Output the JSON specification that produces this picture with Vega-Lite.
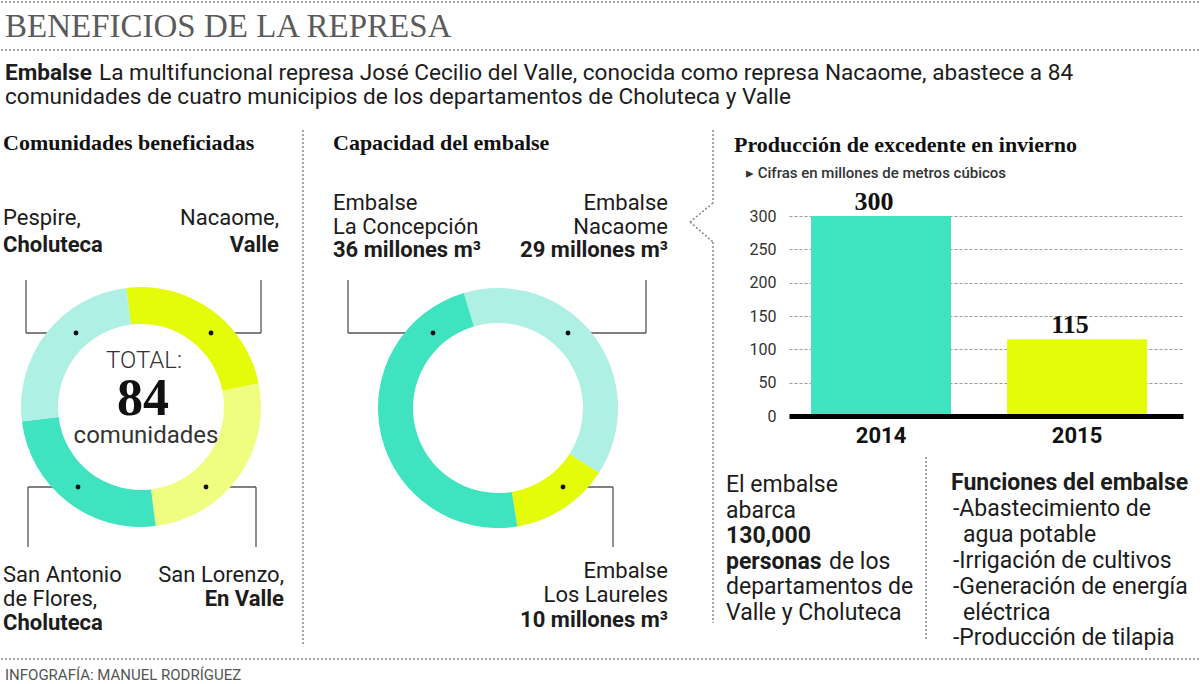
{
  "$schema": "https://vega.github.io/schema/vega-lite/v6.json",
  "background": "white",
  "padding": 0,
  "bounds": "flush",
  "spacing": 0,
  "resolve": {"scale": {"color": "independent"}},
  "config": {
    "view": {"stroke": null},
    "text": {"font": "Roboto", "fontSize": 22, "baseline": "alphabetic", "align": "left", "color": "#1c1c1c"},
    "rule": {"color": "#555555", "strokeWidth": 1.3}
  },
  "hconcat": [
    {
      "width": 788,
      "height": 684,
      "data": {"values": [{}]},
      "resolve": {"scale": {"theta": "independent"}},
      "layer": [
        {"mark": {"type": "rule", "strokeDash": [2, 2], "color": "#8a8a8a", "strokeWidth": 1.5},
         "encoding": {"x": {"datum": 0, "type": "quantitative", "scale": {"domain": [0, 788]}, "axis": null}, "x2": {"datum": 1200},
                      "y": {"datum": 2, "type": "quantitative", "scale": {"domain": [0, 684], "reverse": true}, "axis": null}}},
        {"mark": {"type": "rule", "strokeDash": [2, 2], "color": "#8a8a8a", "strokeWidth": 1.5},
         "encoding": {"x": {"datum": 0, "type": "quantitative", "scale": {"domain": [0, 788]}, "axis": null}, "x2": {"datum": 1200},
                      "y": {"datum": 50, "type": "quantitative", "scale": {"domain": [0, 684], "reverse": true}, "axis": null}}},
        {"mark": {"type": "rule", "strokeDash": [2, 2], "color": "#8a8a8a", "strokeWidth": 1.5},
         "encoding": {"x": {"datum": 0, "type": "quantitative", "scale": {"domain": [0, 788]}, "axis": null}, "x2": {"datum": 1200},
                      "y": {"datum": 659, "type": "quantitative", "scale": {"domain": [0, 684], "reverse": true}, "axis": null}}},
        {"mark": {"type": "rule", "strokeDash": [2, 2], "color": "#8a8a8a", "strokeWidth": 1.5},
         "encoding": {"x": {"datum": 302, "type": "quantitative", "scale": {"domain": [0, 788]}, "axis": null},
                      "y": {"datum": 130, "type": "quantitative", "scale": {"domain": [0, 684], "reverse": true}, "axis": null}, "y2": {"datum": 645}}},
        {"mark": {"type": "rule", "strokeDash": [2, 2], "color": "#8a8a8a", "strokeWidth": 1.5},
         "encoding": {"x": {"datum": 712, "type": "quantitative", "scale": {"domain": [0, 788]}, "axis": null},
                      "y": {"datum": 130, "type": "quantitative", "scale": {"domain": [0, 684], "reverse": true}, "axis": null}, "y2": {"datum": 203}}},
        {"mark": {"type": "rule", "strokeDash": [2, 2], "color": "#8a8a8a", "strokeWidth": 1.5},
         "encoding": {"x": {"datum": 712, "type": "quantitative", "scale": {"domain": [0, 788]}, "axis": null}, "x2": {"datum": 689},
                      "y": {"datum": 203, "type": "quantitative", "scale": {"domain": [0, 684], "reverse": true}, "axis": null}, "y2": {"datum": 222}}},
        {"mark": {"type": "rule", "strokeDash": [2, 2], "color": "#8a8a8a", "strokeWidth": 1.5},
         "encoding": {"x": {"datum": 689, "type": "quantitative", "scale": {"domain": [0, 788]}, "axis": null}, "x2": {"datum": 712},
                      "y": {"datum": 222, "type": "quantitative", "scale": {"domain": [0, 684], "reverse": true}, "axis": null}, "y2": {"datum": 242}}},
        {"mark": {"type": "rule", "strokeDash": [2, 2], "color": "#8a8a8a", "strokeWidth": 1.5},
         "encoding": {"x": {"datum": 712, "type": "quantitative", "scale": {"domain": [0, 788]}, "axis": null},
                      "y": {"datum": 242, "type": "quantitative", "scale": {"domain": [0, 684], "reverse": true}, "axis": null}, "y2": {"datum": 623}}},
        {"mark": {"type": "rule", "strokeDash": [2, 2], "color": "#8a8a8a", "strokeWidth": 1.5},
         "encoding": {"x": {"datum": 925, "type": "quantitative", "scale": {"domain": [0, 788]}, "axis": null},
                      "y": {"datum": 457, "type": "quantitative", "scale": {"domain": [0, 684], "reverse": true}, "axis": null}, "y2": {"datum": 640}}},

        {"mark": {"type": "rule"}, "encoding": {"x": {"datum": 25, "type": "quantitative", "scale": {"domain": [0, 788]}, "axis": null}, "y": {"datum": 280, "type": "quantitative", "scale": {"domain": [0, 684], "reverse": true}, "axis": null}, "y2": {"datum": 333}}},
        {"mark": {"type": "rule"}, "encoding": {"x": {"datum": 25, "type": "quantitative", "scale": {"domain": [0, 788]}, "axis": null}, "x2": {"datum": 75}, "y": {"datum": 333, "type": "quantitative", "scale": {"domain": [0, 684], "reverse": true}, "axis": null}}},
        {"mark": {"type": "rule"}, "encoding": {"x": {"datum": 260, "type": "quantitative", "scale": {"domain": [0, 788]}, "axis": null}, "y": {"datum": 280, "type": "quantitative", "scale": {"domain": [0, 684], "reverse": true}, "axis": null}, "y2": {"datum": 333}}},
        {"mark": {"type": "rule"}, "encoding": {"x": {"datum": 210, "type": "quantitative", "scale": {"domain": [0, 788]}, "axis": null}, "x2": {"datum": 260}, "y": {"datum": 333, "type": "quantitative", "scale": {"domain": [0, 684], "reverse": true}, "axis": null}}},
        {"mark": {"type": "rule"}, "encoding": {"x": {"datum": 27, "type": "quantitative", "scale": {"domain": [0, 788]}, "axis": null}, "x2": {"datum": 77}, "y": {"datum": 487, "type": "quantitative", "scale": {"domain": [0, 684], "reverse": true}, "axis": null}}},
        {"mark": {"type": "rule"}, "encoding": {"x": {"datum": 27, "type": "quantitative", "scale": {"domain": [0, 788]}, "axis": null}, "y": {"datum": 487, "type": "quantitative", "scale": {"domain": [0, 684], "reverse": true}, "axis": null}, "y2": {"datum": 547}}},
        {"mark": {"type": "rule"}, "encoding": {"x": {"datum": 205, "type": "quantitative", "scale": {"domain": [0, 788]}, "axis": null}, "x2": {"datum": 255}, "y": {"datum": 487, "type": "quantitative", "scale": {"domain": [0, 684], "reverse": true}, "axis": null}}},
        {"mark": {"type": "rule"}, "encoding": {"x": {"datum": 255, "type": "quantitative", "scale": {"domain": [0, 788]}, "axis": null}, "y": {"datum": 487, "type": "quantitative", "scale": {"domain": [0, 684], "reverse": true}, "axis": null}, "y2": {"datum": 547}}},
        {"mark": {"type": "rule"}, "encoding": {"x": {"datum": 347, "type": "quantitative", "scale": {"domain": [0, 788]}, "axis": null}, "y": {"datum": 280, "type": "quantitative", "scale": {"domain": [0, 684], "reverse": true}, "axis": null}, "y2": {"datum": 333}}},
        {"mark": {"type": "rule"}, "encoding": {"x": {"datum": 347, "type": "quantitative", "scale": {"domain": [0, 788]}, "axis": null}, "x2": {"datum": 432}, "y": {"datum": 333, "type": "quantitative", "scale": {"domain": [0, 684], "reverse": true}, "axis": null}}},
        {"mark": {"type": "rule"}, "encoding": {"x": {"datum": 645, "type": "quantitative", "scale": {"domain": [0, 788]}, "axis": null}, "y": {"datum": 280, "type": "quantitative", "scale": {"domain": [0, 684], "reverse": true}, "axis": null}, "y2": {"datum": 333}}},
        {"mark": {"type": "rule"}, "encoding": {"x": {"datum": 567, "type": "quantitative", "scale": {"domain": [0, 788]}, "axis": null}, "x2": {"datum": 645}, "y": {"datum": 333, "type": "quantitative", "scale": {"domain": [0, 684], "reverse": true}, "axis": null}}},
        {"mark": {"type": "rule"}, "encoding": {"x": {"datum": 562, "type": "quantitative", "scale": {"domain": [0, 788]}, "axis": null}, "x2": {"datum": 612}, "y": {"datum": 487, "type": "quantitative", "scale": {"domain": [0, 684], "reverse": true}, "axis": null}}},
        {"mark": {"type": "rule"}, "encoding": {"x": {"datum": 612, "type": "quantitative", "scale": {"domain": [0, 788]}, "axis": null}, "y": {"datum": 487, "type": "quantitative", "scale": {"domain": [0, 684], "reverse": true}, "axis": null}, "y2": {"datum": 547}}},

        {
          "data": {"values": [
            {"segmento": "Nacaome, Valle", "comunidades": 20, "orden": 1},
            {"segmento": "San Lorenzo, Valle", "comunidades": 22, "orden": 2},
            {"segmento": "San Antonio de Flores, Choluteca", "comunidades": 21, "orden": 3},
            {"segmento": "Pespire, Choluteca", "comunidades": 21, "orden": 4}
          ]},
          "mark": {"type": "arc", "innerRadius": 83, "outerRadius": 120},
          "encoding": {
            "x": {"datum": 140, "type": "quantitative", "scale": {"domain": [0, 788]}, "axis": null},
            "y": {"datum": 407, "type": "quantitative", "scale": {"domain": [0, 684], "reverse": true}, "axis": null},
            "theta": {"field": "comunidades", "type": "quantitative", "stack": true, "scale": {"range": [-0.122, 6.161]}},
            "order": {"field": "orden", "type": "quantitative"},
            "color": {"field": "segmento", "type": "nominal", "legend": null,
              "scale": {"domain": ["Nacaome, Valle", "San Lorenzo, Valle", "San Antonio de Flores, Choluteca", "Pespire, Choluteca", "Embalse Nacaome", "Embalse Los Laureles", "Embalse La Concepción"],
                        "range": ["#e4fc0a", "#effd80", "#40e3c0", "#aef0e4", "#aef0e4", "#e4fc0a", "#40e3c0"]}}
          }
        },
        {
          "data": {"values": [
            {"segmento": "Embalse Nacaome", "millones_m3": 29, "orden": 1},
            {"segmento": "Embalse Los Laureles", "millones_m3": 10, "orden": 2},
            {"segmento": "Embalse La Concepción", "millones_m3": 36, "orden": 3}
          ]},
          "mark": {"type": "arc", "innerRadius": 85, "outerRadius": 120},
          "encoding": {
            "x": {"datum": 497, "type": "quantitative", "scale": {"domain": [0, 788]}, "axis": null},
            "y": {"datum": 408, "type": "quantitative", "scale": {"domain": [0, 684], "reverse": true}, "axis": null},
            "theta": {"field": "millones_m3", "type": "quantitative", "stack": true, "scale": {"range": [-0.288, 5.995]}},
            "order": {"field": "orden", "type": "quantitative"},
            "color": {"field": "segmento", "type": "nominal", "legend": null,
              "scale": {"domain": ["Nacaome, Valle", "San Lorenzo, Valle", "San Antonio de Flores, Choluteca", "Pespire, Choluteca", "Embalse Nacaome", "Embalse Los Laureles", "Embalse La Concepción"],
                        "range": ["#e4fc0a", "#effd80", "#40e3c0", "#aef0e4", "#aef0e4", "#e4fc0a", "#40e3c0"]}}
          }
        },

        {"mark": {"type": "circle", "size": 24, "color": "#111111", "opacity": 1}, "encoding": {"x": {"datum": 75, "type": "quantitative", "scale": {"domain": [0, 788]}, "axis": null}, "y": {"datum": 333, "type": "quantitative", "scale": {"domain": [0, 684], "reverse": true}, "axis": null}}},
        {"mark": {"type": "circle", "size": 24, "color": "#111111", "opacity": 1}, "encoding": {"x": {"datum": 210, "type": "quantitative", "scale": {"domain": [0, 788]}, "axis": null}, "y": {"datum": 333, "type": "quantitative", "scale": {"domain": [0, 684], "reverse": true}, "axis": null}}},
        {"mark": {"type": "circle", "size": 24, "color": "#111111", "opacity": 1}, "encoding": {"x": {"datum": 77, "type": "quantitative", "scale": {"domain": [0, 788]}, "axis": null}, "y": {"datum": 487, "type": "quantitative", "scale": {"domain": [0, 684], "reverse": true}, "axis": null}}},
        {"mark": {"type": "circle", "size": 24, "color": "#111111", "opacity": 1}, "encoding": {"x": {"datum": 205, "type": "quantitative", "scale": {"domain": [0, 788]}, "axis": null}, "y": {"datum": 487, "type": "quantitative", "scale": {"domain": [0, 684], "reverse": true}, "axis": null}}},
        {"mark": {"type": "circle", "size": 24, "color": "#111111", "opacity": 1}, "encoding": {"x": {"datum": 432, "type": "quantitative", "scale": {"domain": [0, 788]}, "axis": null}, "y": {"datum": 333, "type": "quantitative", "scale": {"domain": [0, 684], "reverse": true}, "axis": null}}},
        {"mark": {"type": "circle", "size": 24, "color": "#111111", "opacity": 1}, "encoding": {"x": {"datum": 567, "type": "quantitative", "scale": {"domain": [0, 788]}, "axis": null}, "y": {"datum": 333, "type": "quantitative", "scale": {"domain": [0, 684], "reverse": true}, "axis": null}}},
        {"mark": {"type": "circle", "size": 24, "color": "#111111", "opacity": 1}, "encoding": {"x": {"datum": 562, "type": "quantitative", "scale": {"domain": [0, 788]}, "axis": null}, "y": {"datum": 487, "type": "quantitative", "scale": {"domain": [0, 684], "reverse": true}, "axis": null}}},

        {"mark": {"type": "text", "text": "BENEFICIOS DE LA REPRESA", "font": "Liberation Serif", "fontSize": 33, "color": "#5b5b5b"},
         "encoding": {"x": {"datum": 4, "type": "quantitative", "scale": {"domain": [0, 788]}, "axis": null}, "y": {"datum": 37, "type": "quantitative", "scale": {"domain": [0, 684], "reverse": true}, "axis": null}}},
        {"mark": {"type": "text", "text": "Embalse", "fontWeight": "bold", "fontSize": 22.6},
         "encoding": {"x": {"datum": 4, "type": "quantitative", "scale": {"domain": [0, 788]}, "axis": null}, "y": {"datum": 80, "type": "quantitative", "scale": {"domain": [0, 684], "reverse": true}, "axis": null}}},
        {"mark": {"type": "text", "text": "La multifuncional represa José Cecilio del Valle, conocida como represa Nacaome, abastece a 84", "fontSize": 22.6},
         "encoding": {"x": {"datum": 98, "type": "quantitative", "scale": {"domain": [0, 788]}, "axis": null}, "y": {"datum": 80, "type": "quantitative", "scale": {"domain": [0, 684], "reverse": true}, "axis": null}}},
        {"mark": {"type": "text", "text": "comunidades de cuatro municipios de los departamentos de Choluteca y Valle", "fontSize": 22.6},
         "encoding": {"x": {"datum": 4, "type": "quantitative", "scale": {"domain": [0, 788]}, "axis": null}, "y": {"datum": 104, "type": "quantitative", "scale": {"domain": [0, 684], "reverse": true}, "axis": null}}},
        {"mark": {"type": "text", "text": "Comunidades beneficiadas", "font": "Liberation Serif", "fontWeight": "bold", "fontSize": 22, "color": "#111111"},
         "encoding": {"x": {"datum": 2, "type": "quantitative", "scale": {"domain": [0, 788]}, "axis": null}, "y": {"datum": 150, "type": "quantitative", "scale": {"domain": [0, 684], "reverse": true}, "axis": null}}},
        {"mark": {"type": "text", "text": "Capacidad del embalse", "font": "Liberation Serif", "fontWeight": "bold", "fontSize": 22, "color": "#111111"},
         "encoding": {"x": {"datum": 332, "type": "quantitative", "scale": {"domain": [0, 788]}, "axis": null}, "y": {"datum": 150, "type": "quantitative", "scale": {"domain": [0, 684], "reverse": true}, "axis": null}}},

        {"mark": {"type": "text", "text": "Pespire,"},
         "encoding": {"x": {"datum": 2, "type": "quantitative", "scale": {"domain": [0, 788]}, "axis": null}, "y": {"datum": 225, "type": "quantitative", "scale": {"domain": [0, 684], "reverse": true}, "axis": null}}},
        {"mark": {"type": "text", "text": "Choluteca", "fontWeight": "bold"},
         "encoding": {"x": {"datum": 2, "type": "quantitative", "scale": {"domain": [0, 788]}, "axis": null}, "y": {"datum": 252, "type": "quantitative", "scale": {"domain": [0, 684], "reverse": true}, "axis": null}}},
        {"mark": {"type": "text", "text": "Nacaome,", "align": "right"},
         "encoding": {"x": {"datum": 278, "type": "quantitative", "scale": {"domain": [0, 788]}, "axis": null}, "y": {"datum": 225, "type": "quantitative", "scale": {"domain": [0, 684], "reverse": true}, "axis": null}}},
        {"mark": {"type": "text", "text": "Valle", "fontWeight": "bold", "align": "right"},
         "encoding": {"x": {"datum": 278, "type": "quantitative", "scale": {"domain": [0, 788]}, "axis": null}, "y": {"datum": 252, "type": "quantitative", "scale": {"domain": [0, 684], "reverse": true}, "axis": null}}},
        {"mark": {"type": "text", "text": ["San Antonio", "de Flores,"], "lineHeight": 24},
         "encoding": {"x": {"datum": 2, "type": "quantitative", "scale": {"domain": [0, 788]}, "axis": null}, "y": {"datum": 582, "type": "quantitative", "scale": {"domain": [0, 684], "reverse": true}, "axis": null}}},
        {"mark": {"type": "text", "text": "Choluteca", "fontWeight": "bold"},
         "encoding": {"x": {"datum": 2, "type": "quantitative", "scale": {"domain": [0, 788]}, "axis": null}, "y": {"datum": 630, "type": "quantitative", "scale": {"domain": [0, 684], "reverse": true}, "axis": null}}},
        {"mark": {"type": "text", "text": "San Lorenzo,", "align": "right"},
         "encoding": {"x": {"datum": 283, "type": "quantitative", "scale": {"domain": [0, 788]}, "axis": null}, "y": {"datum": 582, "type": "quantitative", "scale": {"domain": [0, 684], "reverse": true}, "axis": null}}},
        {"mark": {"type": "text", "text": "En Valle", "fontWeight": "bold", "align": "right"},
         "encoding": {"x": {"datum": 283, "type": "quantitative", "scale": {"domain": [0, 788]}, "axis": null}, "y": {"datum": 606, "type": "quantitative", "scale": {"domain": [0, 684], "reverse": true}, "axis": null}}},
        {"mark": {"type": "text", "text": "TOTAL:", "align": "center", "fontSize": 24, "fontWeight": 300, "color": "#333333"},
         "encoding": {"x": {"datum": 143, "type": "quantitative", "scale": {"domain": [0, 788]}, "axis": null}, "y": {"datum": 368, "type": "quantitative", "scale": {"domain": [0, 684], "reverse": true}, "axis": null}}},
        {"mark": {"type": "text", "text": "84", "align": "center", "font": "Liberation Serif", "fontWeight": "bold", "fontSize": 52, "color": "#111111"},
         "encoding": {"x": {"datum": 142, "type": "quantitative", "scale": {"domain": [0, 788]}, "axis": null}, "y": {"datum": 415, "type": "quantitative", "scale": {"domain": [0, 684], "reverse": true}, "axis": null}}},
        {"mark": {"type": "text", "text": "comunidades", "align": "center", "fontSize": 24, "color": "#333333"},
         "encoding": {"x": {"datum": 145, "type": "quantitative", "scale": {"domain": [0, 788]}, "axis": null}, "y": {"datum": 443, "type": "quantitative", "scale": {"domain": [0, 684], "reverse": true}, "axis": null}}},

        {"mark": {"type": "text", "text": ["Embalse", "La Concepción"], "lineHeight": 24},
         "encoding": {"x": {"datum": 332, "type": "quantitative", "scale": {"domain": [0, 788]}, "axis": null}, "y": {"datum": 210, "type": "quantitative", "scale": {"domain": [0, 684], "reverse": true}, "axis": null}}},
        {"mark": {"type": "text", "text": "36 millones m³", "fontWeight": "bold"},
         "encoding": {"x": {"datum": 332, "type": "quantitative", "scale": {"domain": [0, 788]}, "axis": null}, "y": {"datum": 257, "type": "quantitative", "scale": {"domain": [0, 684], "reverse": true}, "axis": null}}},
        {"mark": {"type": "text", "text": ["Embalse", "Nacaome"], "lineHeight": 24, "align": "right"},
         "encoding": {"x": {"datum": 667, "type": "quantitative", "scale": {"domain": [0, 788]}, "axis": null}, "y": {"datum": 210, "type": "quantitative", "scale": {"domain": [0, 684], "reverse": true}, "axis": null}}},
        {"mark": {"type": "text", "text": "29 millones m³", "fontWeight": "bold", "align": "right"},
         "encoding": {"x": {"datum": 667, "type": "quantitative", "scale": {"domain": [0, 788]}, "axis": null}, "y": {"datum": 257, "type": "quantitative", "scale": {"domain": [0, 684], "reverse": true}, "axis": null}}},
        {"mark": {"type": "text", "text": ["Embalse", "Los Laureles"], "lineHeight": 24, "align": "right"},
         "encoding": {"x": {"datum": 667, "type": "quantitative", "scale": {"domain": [0, 788]}, "axis": null}, "y": {"datum": 578, "type": "quantitative", "scale": {"domain": [0, 684], "reverse": true}, "axis": null}}},
        {"mark": {"type": "text", "text": "10 millones m³", "fontWeight": "bold", "align": "right"},
         "encoding": {"x": {"datum": 667, "type": "quantitative", "scale": {"domain": [0, 788]}, "axis": null}, "y": {"datum": 627, "type": "quantitative", "scale": {"domain": [0, 684], "reverse": true}, "axis": null}}},

        {"mark": {"type": "text", "text": ["El embalse", "abarca"], "fontSize": 23, "lineHeight": 25.6},
         "encoding": {"x": {"datum": 725, "type": "quantitative", "scale": {"domain": [0, 788]}, "axis": null}, "y": {"datum": 492, "type": "quantitative", "scale": {"domain": [0, 684], "reverse": true}, "axis": null}}},
        {"mark": {"type": "text", "text": ["130,000", "personas"], "fontSize": 23, "lineHeight": 25.6, "fontWeight": "bold"},
         "encoding": {"x": {"datum": 725, "type": "quantitative", "scale": {"domain": [0, 788]}, "axis": null}, "y": {"datum": 543.2, "type": "quantitative", "scale": {"domain": [0, 684], "reverse": true}, "axis": null}}},
        {"mark": {"type": "text", "text": "de los", "fontSize": 23},
         "encoding": {"x": {"datum": 828, "type": "quantitative", "scale": {"domain": [0, 788]}, "axis": null}, "y": {"datum": 568.8, "type": "quantitative", "scale": {"domain": [0, 684], "reverse": true}, "axis": null}}},
        {"mark": {"type": "text", "text": ["departamentos de", "Valle y Choluteca"], "fontSize": 23, "lineHeight": 25.6},
         "encoding": {"x": {"datum": 725, "type": "quantitative", "scale": {"domain": [0, 788]}, "axis": null}, "y": {"datum": 594.4, "type": "quantitative", "scale": {"domain": [0, 684], "reverse": true}, "axis": null}}},

        {"mark": {"type": "text", "text": "Funciones del embalse", "fontSize": 23, "fontWeight": "bold"},
         "encoding": {"x": {"datum": 950, "type": "quantitative", "scale": {"domain": [0, 788]}, "axis": null}, "y": {"datum": 490, "type": "quantitative", "scale": {"domain": [0, 684], "reverse": true}, "axis": null}}},
        {"mark": {"type": "text", "text": "-Abastecimiento de", "fontSize": 23},
         "encoding": {"x": {"datum": 952, "type": "quantitative", "scale": {"domain": [0, 788]}, "axis": null}, "y": {"datum": 516, "type": "quantitative", "scale": {"domain": [0, 684], "reverse": true}, "axis": null}}},
        {"mark": {"type": "text", "text": "agua potable", "fontSize": 23},
         "encoding": {"x": {"datum": 962, "type": "quantitative", "scale": {"domain": [0, 788]}, "axis": null}, "y": {"datum": 542, "type": "quantitative", "scale": {"domain": [0, 684], "reverse": true}, "axis": null}}},
        {"mark": {"type": "text", "text": ["-Irrigación de cultivos", "-Generación de energía"], "fontSize": 23, "lineHeight": 25.8},
         "encoding": {"x": {"datum": 952, "type": "quantitative", "scale": {"domain": [0, 788]}, "axis": null}, "y": {"datum": 568, "type": "quantitative", "scale": {"domain": [0, 684], "reverse": true}, "axis": null}}},
        {"mark": {"type": "text", "text": "eléctrica", "fontSize": 23},
         "encoding": {"x": {"datum": 962, "type": "quantitative", "scale": {"domain": [0, 788]}, "axis": null}, "y": {"datum": 619.5, "type": "quantitative", "scale": {"domain": [0, 684], "reverse": true}, "axis": null}}},
        {"mark": {"type": "text", "text": "-Producción de tilapia", "fontSize": 23},
         "encoding": {"x": {"datum": 952, "type": "quantitative", "scale": {"domain": [0, 788]}, "axis": null}, "y": {"datum": 645, "type": "quantitative", "scale": {"domain": [0, 684], "reverse": true}, "axis": null}}},

        {"mark": {"type": "text", "text": "INFOGRAFÍA: MANUEL RODRÍGUEZ", "fontSize": 15, "color": "#555555"},
         "encoding": {"x": {"datum": 4, "type": "quantitative", "scale": {"domain": [0, 788]}, "axis": null}, "y": {"datum": 680, "type": "quantitative", "scale": {"domain": [0, 684], "reverse": true}, "axis": null}}}
      ]
    },
    {
      "spacing": 0,
      "bounds": "flush",
      "vconcat": [
        {
          "width": 394,
          "height": 216,
          "data": {"values": [{}]},
          "layer": [
            {"mark": {"type": "text", "text": "Producción de excedente en invierno", "font": "Liberation Serif", "fontWeight": "bold", "fontSize": 22, "color": "#111111"},
             "encoding": {"x": {"datum": 733, "type": "quantitative", "scale": {"domain": [788, 1182]}, "axis": null}, "y": {"datum": 152, "type": "quantitative", "scale": {"domain": [0, 216], "reverse": true}, "axis": null}}},
            {"mark": {"type": "text", "text": "▸ Cifras en millones de metros cúbicos", "fontSize": 15, "fontWeight": 500, "color": "#333333"},
             "encoding": {"x": {"datum": 745, "type": "quantitative", "scale": {"domain": [788, 1182]}, "axis": null}, "y": {"datum": 178, "type": "quantitative", "scale": {"domain": [0, 216], "reverse": true}, "axis": null}}}
          ]
        },
        {
          "width": 394,
          "height": 200,
          "data": {"values": [
            {"año": "2014", "excedente": 300},
            {"año": "2015", "excedente": 115}
          ]},
          "encoding": {
            "x": {"field": "año", "type": "ordinal",
                  "scale": {"paddingInner": 0.286, "paddingOuter": 0.148, "align": 0.38},
                  "axis": {"title": null, "labelAngle": 0, "ticks": false, "domainColor": "#000000", "domainWidth": 5, "zindex": 1,
                           "labelFont": "Roboto", "labelFontSize": 22, "labelFontWeight": "bold", "labelColor": "#111111", "labelPadding": 9}},
            "y": {"field": "excedente", "type": "quantitative",
                  "scale": {"domain": [0, 300]},
                  "axis": {"title": null, "values": [0, 50, 100, 150, 200, 250, 300], "ticks": false, "domain": false,
                           "grid": true, "gridDash": [3, 2], "gridColor": "#9a9a9a", "gridWidth": 1.2,
                           "labelFont": "Roboto", "labelFontSize": 16, "labelColor": "#333333", "labelPadding": 13}}
          },
          "layer": [
            {"mark": {"type": "bar"},
             "encoding": {"color": {"field": "año", "type": "nominal", "legend": null, "scale": {"domain": ["2014", "2015"], "range": ["#40e3c0", "#e4fc0a"]}}}},
            {"mark": {"type": "text", "align": "center", "baseline": "alphabetic", "dy": -6, "dx": -7, "font": "Liberation Serif", "fontWeight": "bold", "fontSize": 26, "color": "#111111"},
             "encoding": {"text": {"field": "excedente", "type": "quantitative"}}}
          ]
        }
      ]
    }
  ]
}
